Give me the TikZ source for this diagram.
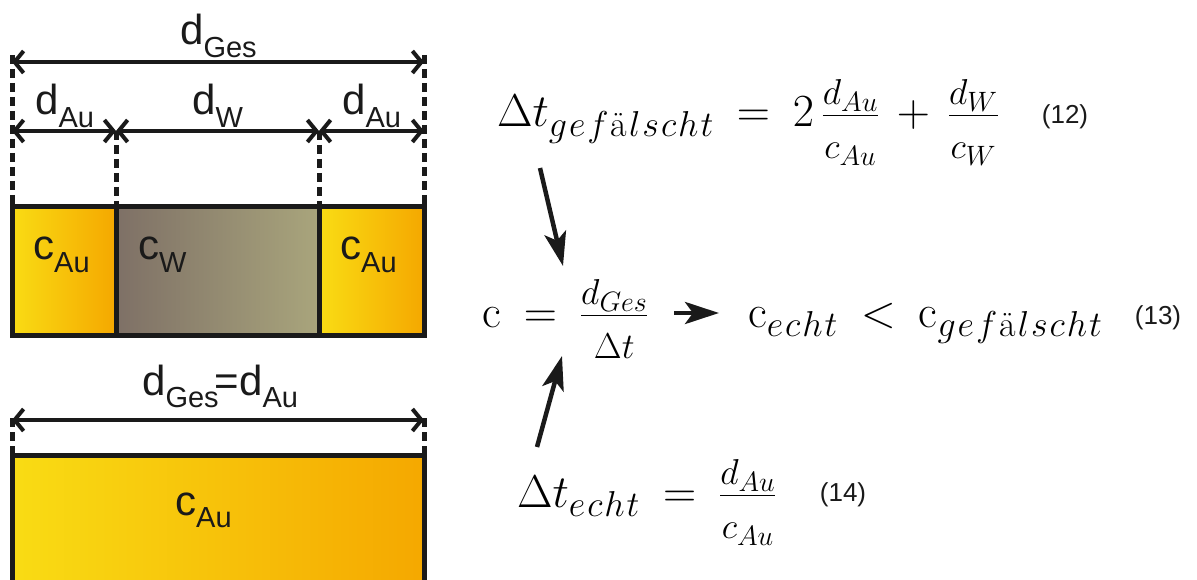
\RequirePackage{fix-cm}
\documentclass[tikz,border=0pt]{standalone}
\usepackage{amsmath}
\usepackage{fontspec}
\newfontfamily\arial{Liberation Sans}
\usetikzlibrary{arrows.meta}
\DeclareMathSizes{46}{46}{36}{28}
\definecolor{goldL}{HTML}{F9DC14}
\definecolor{goldR}{HTML}{F5A800}
\definecolor{wL}{HTML}{7E7066}
\definecolor{wR}{HTML}{A9A57C}
\definecolor{ink}{HTML}{1A1A1A}
\newcommand\lsub[1]{\raisebox{-0.3em}{\fontsize{29}{29}\selectfont #1}}
\newcommand\gef{g\mkern1mu e\mkern1mu f\mkern1mu\text{\normalfont ä}\mkern1mu l\mkern1mu s\mkern1mu c\mkern1mu h\mkern1mu t}
\newcommand\ech{e\mkern1mu c\mkern1mu h\mkern1mu t}
\newcommand\nfrac[2]{\dfrac{\raisebox{-9pt}[\height][0pt]{$\scriptstyle #1$}}{\scriptstyle #2}}
\begin{document}
\thickmuskip=9mu plus 3mu
\medmuskip=7mu plus 2mu
\begin{tikzpicture}[x=1pt,y=-1pt,
  dim/.style={ink, line width=4pt, {Straight Barb[length=9pt,width=22pt,line width=4pt]}-{Straight Barb[length=9pt,width=22pt,line width=4pt]}},
  ext/.style={ink, line width=5pt, dash pattern=on 9pt off 5pt},
  box/.style={draw=ink, line width=5pt},
  lab/.style={font=\arial\fontsize{42}{42}\selectfont, inner sep=0pt, anchor=base west, text=ink},
  eq/.style={font=\fontsize{46}{52}\selectfont, inner sep=0pt, anchor=base west},
  num/.style={font=\arial\fontsize{26}{26}\selectfont, inner sep=0pt, text=ink},
  bigarrow/.style={ink, line width=4.5pt, -{Stealth[length=34pt,width=22pt,inset=8pt]}}]
\useasboundingbox (0,0) rectangle (1197,580);
\clip (0,0) rectangle (1197,580);

% ---------- top bar ----------
\shade[left color=goldL, right color=goldR] (12,207) rectangle (116,335);
\shade[left color=wL, right color=wR] (116,207) rectangle (319,335);
\shade[left color=goldL, right color=goldR] (319,207) rectangle (424,335);
\draw[box] (12,207) rectangle (424,335);
\draw[box] (116,207) -- (116,335);
\draw[box] (319,207) -- (319,335);

\coordinate (x0) at (12,55);
\coordinate (x1) at (116,131);
\coordinate (x2) at (319,131);
\coordinate (x3) at (424,55);
\draw[ext] (x0) -- (12,207);
\draw[ext] (x1) -- (116,207);
\draw[ext] (x2) -- (319,207);
\draw[ext] (x3) -- (424,207);

\coordinate (a0) at (12,62);
\coordinate (a3) at (424,62);
\coordinate (b0) at (12,131);
\coordinate (b1) at (116,131);
\coordinate (b2) at (319,131);
\coordinate (b3) at (424,131);
\draw[dim] (a0) -- (a3);
\draw[dim] (b0) -- (b1);
\draw[dim] (b1) -- (b2);
\draw[dim] (b2) -- (b3);

\node[lab] (dges) at (180,45) {d\lsub{Ges}};
\node[lab] (dau1) at (35,115) {d\lsub{Au}};
\node[lab] (dw) at (192,115) {d\lsub{W}};
\node[lab] (dau2) at (342,115) {d\lsub{Au}};
\node[lab] (cau1) at (33,260) {c\lsub{Au}};
\node[lab] (cw) at (138,260) {c\lsub{W}};
\node[lab] (cau2) at (340,260) {c\lsub{Au}};

% ---------- bottom bar ----------
\shade[left color=goldL, right color=goldR] (12,455) rectangle (424,600);
\draw[box] (12,600) -- (12,455) -- (424,455) -- (424,600);
\draw[ext] (12,418) -- (12,455);
\draw[ext] (424,418) -- (424,455);
\coordinate (c0) at (12,420);
\coordinate (c3) at (424,420);
\draw[dim] (c0) -- (c3);
\node[lab] (dgesau) at (142,395) {d\lsub{Ges}\kern-4pt=d\lsub{Au}};
\node[lab] (cau3) at (175,515) {c\lsub{Au}};

% ---------- equations ----------
\node[eq] (e12) at (497,127) {$\Delta t_{\gef} = 2\,\nfrac{d_{Au}}{c_{Au}} + \nfrac{d_W}{c_W}$};
\node[num] (n12) at (1065,117) {(12)};
\node[eq] (e13a) at (482,327) {$\mathrm{c} = \nfrac{d_{Ges}}{\Delta t}$};
\node[eq] (e13b) at (748,327) {$\mathrm{c}_{\ech} < \mathrm{c}_{\gef}$};
\node[num] (n13) at (1158,318) {(13)};
\node[eq] (e14) at (517,507) {$\Delta t_{\ech} = \nfrac{d_{Au}}{c_{Au}}$};
\node[num] (n14) at (843,495) {(14)};

\coordinate (p1) at (540,168);
\coordinate (q1) at (563,266);
\coordinate (p2) at (537,447);
\coordinate (q2) at (562,356);
\coordinate (p3) at (674,313);
\coordinate (q3) at (719,313);
\draw[bigarrow] (p1) -- (q1);
\draw[bigarrow] (p2) -- (q2);
\draw[bigarrow] (p3) -- (q3);
\end{tikzpicture}
\end{document}
